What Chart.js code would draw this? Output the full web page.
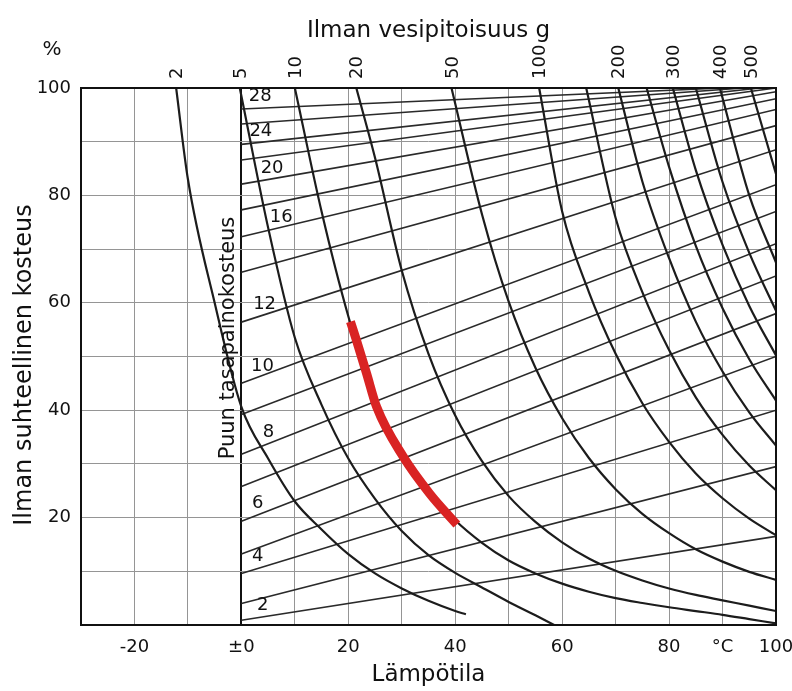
<!DOCTYPE html>
<html>
<head>
<meta charset="utf-8">
<script src="https://cdn.jsdelivr.net/npm/chart.js@4.4.1/dist/chart.umd.min.js"></script>
<style>
  html, body { margin: 0; padding: 0; background: #fff; }
  #wrap { width: 792px; height: 691px; }
</style>
</head>
<body>
<div id="wrap"><canvas id="chart" width="792" height="691"></canvas></div>
<script>
// Axis ticks
const xTickValues = [-20, 0, 20, 40, 60, 80, 90, 100];
const xTickLabels = ['-20', '±0', '20', '40', '60', '80', '°C', '100'];
const yTickValues = [20, 40, 60, 80, 100];

// Water content of air (g/m3): temperature and relative humidity along each curve
const vapourLevels = [2, 5, 10, 20, 50, 100, 150, 200, 250, 300, 350, 400, 500];
const vapourT = [
  [-12.2, -10, -5, 0, 5, 10, 15, 20, 25, 30, 35, 40, 42],
  [-0.3, 5, 10, 15, 20, 25, 30, 35, 40, 45, 50, 55, 58.5],
  [10, 15, 20, 25, 30, 35, 40, 45, 50, 55, 60, 65, 70, 75, 80, 85, 90, 95, 100],
  [21.5, 25, 30, 35, 40, 45, 50, 55, 60, 65, 70, 75, 80, 85, 90, 95, 100],
  [39.3, 45, 50, 55, 60, 65, 70, 75, 80, 85, 90, 95, 100],
  [55.7, 60, 65, 70, 75, 80, 85, 90, 95, 100],
  [64.5, 70, 75, 80, 85, 90, 95, 100],
  [70.5, 75, 80, 85, 90, 95, 100],
  [75.8, 80, 85, 90, 95, 100],
  [80.7, 85, 90, 95, 100],
  [85, 90, 95, 100],
  [89.5, 95, 100],
  [95.3, 100]
];
const vapourRh = [
  [100, 83, 60, 40.6, 31, 23, 17.8, 13.2, 9.6, 6.8, 4.5, 2.6, 2.0],
  [100, 74, 53.5, 41, 31, 23.5, 17.5, 13, 9.7, 7, 4.3, 1.8, 0],
  [100, 77, 57.5, 42, 32, 25, 19.5, 15.3, 12, 9.6, 7.7, 6.2, 5, 4.1, 3.3, 2.6, 1.9, 1.1, 0.3],
  [100, 87, 66, 50.5, 39, 30.5, 24, 19.2, 15.4, 12.4, 10.1, 8.3, 6.8, 5.6, 4.6, 3.6, 2.6],
  [100, 76.5, 60.2, 47.9, 38.5, 31.1, 25.3, 20.7, 17.1, 14.1, 11.8, 9.9, 8.4],
  [100, 77, 62, 50.5, 41.3, 34.1, 28.2, 23.6, 19.8, 16.7],
  [100, 75.8, 62, 51.2, 42.4, 35.4, 29.7, 25.1],
  [100, 82.6, 68.3, 56.5, 47.2, 39.6, 33.4],
  [100, 85.3, 70.6, 59, 49.5, 41.8],
  [100, 84.7, 70.8, 59.4, 50.2],
  [100, 82.5, 69.3, 58.5],
  [100, 80, 67.5],
  [100, 84]
];
const topLabelLevels = [2, 5, 10, 20, 50, 100, 200, 300, 400, 500];

// Equilibrium moisture content of wood (%): straight lines from 0 °C
const emcLevels = [2, 3, 4, 5, 6, 7, 8, 9, 10, 12, 14, 16, 18, 20, 22, 24, 26, 28];
const emcStartRh = [0.9, 4.0, 9.6, 13.2, 19.3, 25.8, 31.8, 39.2, 45.0, 56.4, 65.7, 72.3, 77.3, 82.1, 86.6, 89.5, 93.3, 96.1];
const emcEndT = [100, 100, 100, 100, 100, 100, 100, 100, 100, 100, 100, 100, 100, 100, 100, 97, 94, 90];
const emcEndRh = [16.5, 29.5, 40, 50, 58, 65, 71, 77, 82, 88.5, 93, 96, 98, 99.3, 100, 100, 100, 100];
const emcLabelled = [2, 4, 6, 8, 10, 12, 16, 20, 24, 28];
const emcLabelT = [2.9, 2, 2, 4, 1.8, 2.2, 5.3, 3.6, 1.5, 1.4];

// Highlighted red curve
const markT = [20.4, 21.5, 23.4, 25.3, 30.3, 35.2, 40.3];
const markRh = [56.5, 53.1, 46.9, 40.6, 31.3, 24.5, 18.7];

const FONT = "'DejaVu Sans', sans-serif";
const topTickT = topLabelLevels.map(g => vapourT[vapourLevels.indexOf(g)][0]);

const datasets = [];
datasets.push({
  label: 'mark',
  data: markT.map((t, i) => ({ x: t, y: markRh[i] })),
  borderColor: '#d92323',
  borderWidth: 9,
  borderCapStyle: 'butt',
  cubicInterpolationMode: 'monotone',
  pointRadius: 0,
  showLine: true
});
vapourLevels.forEach((g, k) => {
  datasets.push({
    label: g + ' g',
    data: vapourT[k].map((t, i) => ({ x: t, y: vapourRh[k][i] })),
    borderColor: '#1c1c1c',
    borderWidth: 2.2,
    cubicInterpolationMode: 'monotone',
    pointRadius: 0,
    showLine: true
  });
});
emcLevels.forEach((m, k) => {
  datasets.push({
    label: m + ' %',
    data: [{ x: 0, y: emcStartRh[k] }, { x: emcEndT[k], y: emcEndRh[k] }],
    borderColor: '#2a2a2a',
    borderWidth: 1.6,
    pointRadius: 0,
    showLine: true
  });
});

function emcAt(k, t) {
  return emcStartRh[k] + (emcEndRh[k] - emcStartRh[k]) * t / emcEndT[k];
}

const annotate = {
  id: 'annotate',
  afterDatasetsDraw(chart) {
    const { ctx, chartArea: a, scales: { x, y } } = chart;
    ctx.save();
    ctx.strokeStyle = '#111';
    ctx.lineWidth = 2;
    ctx.strokeRect(a.left, a.top, a.right - a.left, a.bottom - a.top);

    ctx.fillStyle = '#111';
    ctx.font = '18px ' + FONT;
    ctx.textAlign = 'left';
    ctx.textBaseline = 'middle';
    emcLabelled.forEach((m, i) => {
      const k = emcLevels.indexOf(m);
      const t = emcLabelT[i];
      ctx.fillText(String(m), x.getPixelForValue(t), y.getPixelForValue(emcAt(k, t + 1) + 2.2));
    });

    ctx.font = '20px ' + FONT;
    ctx.textAlign = 'center';
    ctx.fillText('%', 52, 50);

    ctx.font = '24px ' + FONT;
    ctx.translate(25, 365);
    ctx.rotate(-Math.PI / 2);
    ctx.fillText('Ilman suhteellinen kosteus', 0, 0);
    ctx.setTransform(1, 0, 0, 1, 0, 0);

    ctx.font = '21px ' + FONT;
    ctx.translate(x.getPixelForValue(0) - 13, 338);
    ctx.rotate(-Math.PI / 2);
    ctx.fillText('Puun tasapainokosteus', 0, 0);
    ctx.restore();
  }
};

const noSidePadding = s => { s.paddingLeft = 0; s.paddingRight = 0; };

new Chart(document.getElementById('chart'), {
  type: 'scatter',
  data: { datasets },
  options: {
    responsive: false,
    animation: false,
    devicePixelRatio: 1,
    layout: { padding: { left: 0, right: 16, top: 0, bottom: 0 } },
    plugins: { legend: { display: false }, tooltip: { enabled: false } },
    scales: {
      x: {
        type: 'linear',
        position: 'bottom',
        min: -30,
        max: 100,
        afterFit: s => { s.height = 66; noSidePadding(s); },
        ticks: {
          stepSize: 10,
          autoSkip: false,
          maxRotation: 0,
          padding: 12,
          color: '#111',
          font: { family: FONT, size: 18 },
          callback: v => {
            const i = xTickValues.indexOf(v);
            return i >= 0 ? xTickLabels[i] : '';
          }
        },
        grid: {
          drawTicks: false,
          color: c => (c.tick && c.tick.value === 0 ? '#111' : '#959595'),
          lineWidth: c => (c.tick && c.tick.value === 0 ? 2 : 1)
        },
        border: { display: false },
        title: { display: true, text: 'Lämpötila', color: '#111', font: { family: FONT, size: 23 }, padding: { top: 0, bottom: 2 } }
      },
      xTop: {
        type: 'linear',
        position: 'top',
        min: -30,
        max: 100,
        afterFit: s => { s.height = 88; noSidePadding(s); },
        afterBuildTicks: s => { s.ticks = topTickT.map(v => ({ value: v })); },
        ticks: {
          autoSkip: false,
          minRotation: 90,
          maxRotation: 90,
          padding: 9,
          labelOffset: 23,
          color: '#111',
          font: { family: FONT, size: 18 },
          callback: (v, i) => String(topLabelLevels[i])
        },
        grid: { display: false, drawTicks: false },
        border: { display: false },
        title: { display: true, text: 'Ilman vesipitoisuus g', color: '#111', font: { family: FONT, size: 23 }, padding: { top: 17, bottom: 0 } }
      },
      y: {
        type: 'linear',
        position: 'left',
        min: 0,
        max: 100,
        afterFit: s => { s.width = 81; },
        ticks: {
          stepSize: 10,
          autoSkip: false,
          padding: 10,
          color: '#111',
          font: { family: FONT, size: 18 },
          callback: v => (yTickValues.includes(v) ? String(v) : '')
        },
        grid: { drawTicks: false, color: '#959595', lineWidth: 1 },
        border: { display: false }
      }
    }
  },
  plugins: [annotate]
});
</script>
</body>
</html>
